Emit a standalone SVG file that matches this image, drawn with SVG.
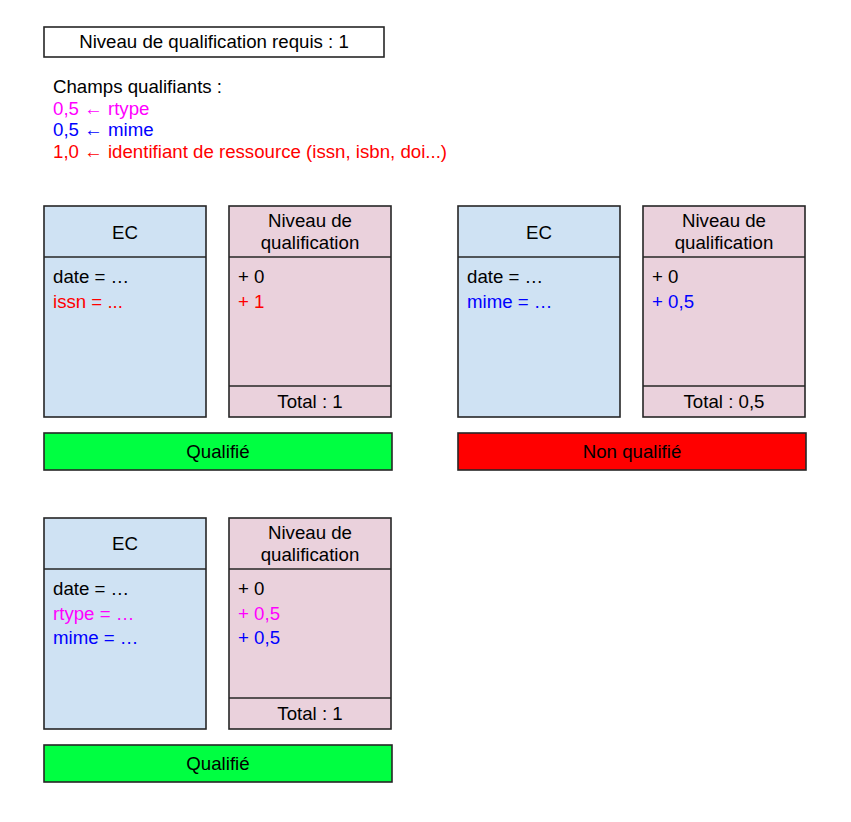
<svg xmlns="http://www.w3.org/2000/svg" width="851" height="822" viewBox="0 0 851 822">
<style>
text{font-family:"Liberation Sans",Arial,sans-serif;font-size:18.67px;fill:#000}
.c{text-anchor:middle}
.box{stroke:#262626;stroke-width:1.6}
.ec{fill:#cfe2f3}
.nq{fill:#ead1dc}
.ln{stroke:#262626;stroke-width:1.6}
.m{fill:#ff00ff}
.b{fill:#0000ff}
.r{fill:#ff0000}
</style>
<rect width="851" height="822" fill="#fff"/>
<g id="requis">
<rect x="44" y="27" width="340" height="30" fill="#fff" class="box"/>
<text x="214" y="48" class="c">Niveau de qualification requis : 1</text>
</g>
<g id="champs">
<text x="53" y="93">Champs qualifiants :</text>
<text x="53" y="114.5" class="m">0,5 ← rtype</text>
<text x="53" y="136" class="b">0,5 ← mime</text>
<text x="53" y="157.5" class="r">1,0 ← identifiant de ressource (issn, isbn, doi...)</text>
</g>
<g id="ec1">
<rect x="44" y="206" width="162" height="211" class="box ec"/>
<line x1="44" y1="257" x2="206" y2="257" class="ln"/>
<text x="125" y="238.5" class="c">EC</text>
<text x="53" y="283">date = …</text>
<text x="53" y="307.5" class="r">issn = ...</text>
</g>
<g id="nq1">
<rect x="229" y="206" width="162" height="211" class="box nq"/>
<line x1="229" y1="257" x2="391" y2="257" class="ln"/>
<line x1="229" y1="386" x2="391" y2="386" class="ln"/>
<text x="310" y="227" class="c">Niveau de</text>
<text x="310" y="248.5" class="c">qualification</text>
<text x="238" y="283">+ 0</text>
<text x="238" y="307.5" class="r">+ 1</text>
<text x="310" y="408" class="c">Total : 1</text>
</g>
<g id="res1">
<rect x="44" y="433" width="348" height="37" fill="#00ff41" class="box"/>
<text x="218" y="458" class="c">Qualifié</text>
</g>
<g id="ec2">
<rect x="458" y="206" width="162" height="211" class="box ec"/>
<line x1="458" y1="257" x2="620" y2="257" class="ln"/>
<text x="539" y="238.5" class="c">EC</text>
<text x="467" y="283">date = …</text>
<text x="467" y="307.5" class="b">mime = …</text>
</g>
<g id="nq2">
<rect x="643" y="206" width="162" height="211" class="box nq"/>
<line x1="643" y1="257" x2="805" y2="257" class="ln"/>
<line x1="643" y1="386" x2="805" y2="386" class="ln"/>
<text x="724" y="227" class="c">Niveau de</text>
<text x="724" y="248.5" class="c">qualification</text>
<text x="652" y="283">+ 0</text>
<text x="652" y="307.5" class="b">+ 0,5</text>
<text x="724" y="408" class="c">Total : 0,5</text>
</g>
<g id="res2">
<rect x="458" y="433" width="348" height="37" fill="#ff0000" class="box"/>
<text x="632" y="458" class="c">Non qualifié</text>
</g>
<g id="ec3">
<rect x="44" y="518" width="162" height="211" class="box ec"/>
<line x1="44" y1="569" x2="206" y2="569" class="ln"/>
<text x="125" y="550" class="c">EC</text>
<text x="53" y="595">date = …</text>
<text x="53" y="619.5" class="m">rtype = …</text>
<text x="53" y="643.5" class="b">mime = …</text>
</g>
<g id="nq3">
<rect x="229" y="518" width="162" height="211" class="box nq"/>
<line x1="229" y1="569" x2="391" y2="569" class="ln"/>
<line x1="229" y1="698" x2="391" y2="698" class="ln"/>
<text x="310" y="539" class="c">Niveau de</text>
<text x="310" y="560.5" class="c">qualification</text>
<text x="238" y="595">+ 0</text>
<text x="238" y="619.5" class="m">+ 0,5</text>
<text x="238" y="643.5" class="b">+ 0,5</text>
<text x="310" y="720" class="c">Total : 1</text>
</g>
<g id="res3">
<rect x="44" y="745" width="348" height="37" fill="#00ff41" class="box"/>
<text x="218" y="770" class="c">Qualifié</text>
</g>
<g id="connectors"></g>
</svg>
